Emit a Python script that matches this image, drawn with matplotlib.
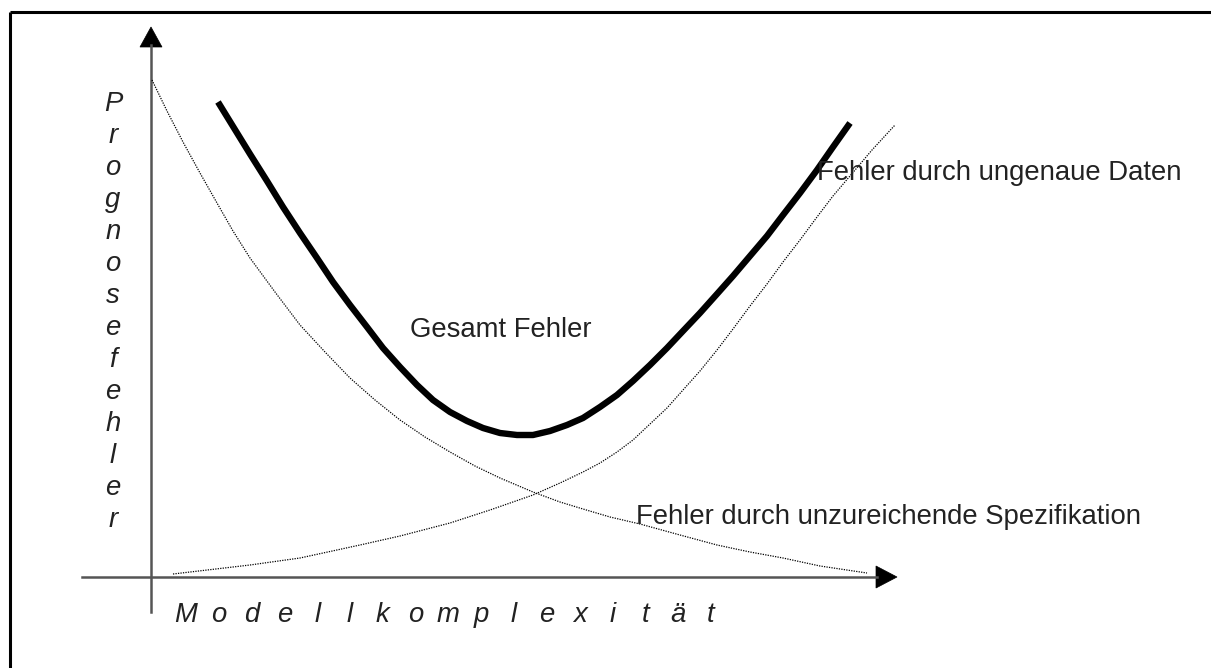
import matplotlib
matplotlib.use("Agg")
import matplotlib.pyplot as plt
from matplotlib.patches import Polygon

# ---- data (x = model complexity, y = forecast error) ----
total_x = [0.67, 0.83, 0.99, 1.16, 1.32, 1.49, 1.66, 1.82, 1.99, 2.16,
           2.32, 2.49, 2.66, 2.82, 2.99, 3.16, 3.32, 3.49, 3.66, 3.82,
           3.99, 4.16, 4.32, 4.49, 4.66, 4.82, 4.99, 5.16, 5.32, 5.49,
           5.66, 5.82, 5.99, 6.16, 6.32, 6.49, 6.66, 6.82, 6.99]
total_y = [4.75, 4.49, 4.23, 3.96, 3.70, 3.44, 3.19, 2.95, 2.72, 2.50,
           2.29, 2.10, 1.92, 1.77, 1.65, 1.56, 1.49, 1.44, 1.42, 1.42,
           1.46, 1.52, 1.59, 1.70, 1.82, 1.96, 2.12, 2.29, 2.46, 2.64,
           2.83, 3.01, 3.21, 3.41, 3.62, 3.84, 4.07, 4.30, 4.54]

spec_x = [0.01, 0.16, 0.32, 0.49, 0.66, 0.82, 0.99, 1.24, 1.49, 1.74,
          1.99, 2.24, 2.49, 2.74, 2.99, 3.24, 3.49, 3.82, 4.09, 4.32,
          4.59, 4.89, 5.29, 5.66, 5.99, 6.32, 6.69, 7.16]
spec_y = [4.97, 4.66, 4.35, 4.04, 3.74, 3.46, 3.19, 2.85, 2.52, 2.25,
          1.99, 1.77, 1.57, 1.40, 1.25, 1.11, 0.99, 0.85, 0.75, 0.68,
          0.60, 0.53, 0.42, 0.32, 0.25, 0.19, 0.11, 0.04]

data_x = [0.22, 0.99, 1.49, 2.09, 2.49, 2.99, 3.39, 3.82, 4.09, 4.32,
          4.49, 4.66, 4.82, 4.99, 5.16, 5.32, 5.49, 5.66, 5.82, 5.99,
          6.16, 6.32, 6.49, 6.66, 6.82, 6.99, 7.21, 7.44]
data_y = [0.03, 0.12, 0.19, 0.32, 0.41, 0.54, 0.67, 0.82, 0.94, 1.05,
          1.14, 1.25, 1.37, 1.53, 1.69, 1.87, 2.06, 2.27, 2.48, 2.71,
          2.93, 3.15, 3.37, 3.60, 3.81, 4.01, 4.27, 4.52]

label_total = "Gesamt Fehler"
label_data = "Fehler durch ungenaue Daten"
label_spec = "Fehler durch unzureichende Spezifikation"
xlabel = "Modellkomplexität"
ylabel = "Prognosefehler"

plt.rcParams['font.family'] = ['Liberation Sans', 'DejaVu Sans']

fig = plt.figure(figsize=(12.11, 6.68), dpi=100)
ax = fig.add_axes([0, 0, 1, 1])
ax.set_xlim(-1.51, 10.60)
ax.set_ylim(-0.91, 5.77)
ax.axis('off')

# frame (top and left edges)
ax.plot([-1.41, 10.60], [5.65, 5.65], color='black', lw=2.2, solid_capstyle='butt')
ax.plot([-1.41, -1.41], [5.65, -0.91], color='black', lw=2.2, solid_capstyle='butt')

# axes with arrows
axis_col = '#555555'
ax.plot([0, 0], [-0.35, 5.32], color=axis_col, lw=1.8)
ax.plot([-0.69, 7.26], [0, 0], color=axis_col, lw=1.8)
ax.add_patch(Polygon([[-0.11, 5.30], [0.11, 5.30], [0, 5.50]], closed=True,
                     facecolor='black', edgecolor='black', lw=0.5))
ax.add_patch(Polygon([[7.25, 0.11], [7.25, -0.11], [7.46, 0]], closed=True,
                     facecolor='black', edgecolor='black', lw=0.5))

# curves
ax.plot(spec_x, spec_y, color='black', lw=0.9, linestyle=(0, (1, 1)))
ax.plot(data_x, data_y, color='black', lw=0.9, linestyle=(0, (1, 1)))
ax.plot(total_x, total_y, color='black', lw=4.6, solid_capstyle='butt',
        solid_joinstyle='round')

# labels
fs = 19.8
tcol = '#222222'
ax.text(2.59, 2.40, label_total, fontsize=fs, color=tcol, ha='left', va='baseline')
ax.text(6.66, 3.97, label_data, fontsize=fs, color=tcol, ha='left', va='baseline')
ax.text(4.85, 0.53, label_spec, fontsize=fs, color=tcol, ha='left', va='baseline')

for i, ch in enumerate(xlabel):
    ax.text(0.35 + i * 0.328, -0.45, ch, fontsize=fs, color=tcol, style='italic',
            ha='center', va='baseline')
for i, ch in enumerate(ylabel):
    ax.text(-0.38, 4.73 - i * 0.32, ch, fontsize=fs, color=tcol, style='italic',
            ha='center', va='center')

fig.savefig('out.png', dpi=100)
